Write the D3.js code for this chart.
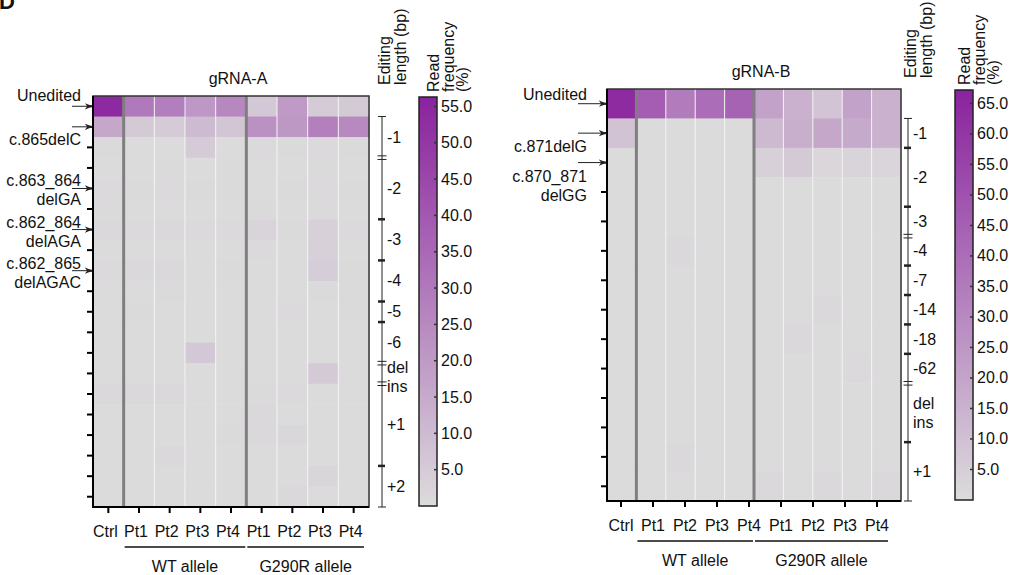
<!DOCTYPE html>
<html>
<head>
<meta charset="utf-8">
<script src="https://cdn.jsdelivr.net/npm/d3@7"></script>
<style>
  body { margin: 0; background: #fff; }
  text { font-family: "Liberation Sans", Arial, Helvetica, sans-serif; fill: #111; }
</style>
</head>
<body>
<script>
// ---- data: gRNA-A (left) ----
var leftColumns = ["Ctrl", "WT-Pt1", "WT-Pt2", "WT-Pt3", "WT-Pt4", "G-Pt1", "G-Pt2", "G-Pt3", "G-Pt4"];
var leftTickLabels = ["Ctrl", "Pt1", "Pt2", "Pt3", "Pt4", "Pt1", "Pt2", "Pt3", "Pt4"];
var leftValues = [
  [54, 30, 28.5, 21, 25.5, 6, 20, 5, 5.5],
  [16, 5.5, 5, 10, 7, 23, 20.5, 28, 25],
  [0.6, 0.4, 0.3, 5, 0.4, 0.8, 0.6, 0.9, 0.5],
  [0.4, 0.3, 0.5, 0.3, 0.6, 0.4, 0.3, 0.5, 0.4],
  [0.9, 0.7, 0.8, 0.5, 0.6, 0.4, 0.5, 1.0, 0.7],
  [0.5, 0.3, 0.4, 0.3, 0.3, 0.6, 0.4, 0.5, 0.4],
  [1.2, 1.0, 1.1, 0.9, 1.0, 2.5, 0.6, 3.5, 0.8],
  [0.4, 0.3, 0.4, 0.3, 0.4, 0.8, 0.4, 3.5, 0.4],
  [0.8, 1.2, 1.1, 0.4, 0.5, 0.4, 0.4, 4.5, 0.5],
  [0.3, 0.4, 0.6, 0.3, 0.3, 0.4, 0.3, 0.5, 0.6],
  [0.4, 0.6, 0.4, 0.3, 0.3, 0.3, 0.8, 0.4, 0.7],
  [0.3, 0.3, 0.3, 0.3, 0.3, 0.3, 0.3, 0.3, 0.3],
  [0.4, 0.3, 0.3, 6, 0.3, 0.4, 0.3, 0.3, 0.4],
  [0.3, 0.3, 0.3, 0.3, 0.3, 0.3, 0.3, 5.5, 0.3],
  [1.3, 1.2, 1.2, 0.4, 0.4, 0.6, 1.0, 0.4, 0.4],
  [0.3, 0.3, 0.3, 0.3, 0.3, 1.3, 0.4, 0.3, 0.3],
  [0.3, 0.3, 0.3, 0.3, 0.5, 1.2, 1.4, 0.3, 0.3],
  [0.3, 0.3, 1.3, 0.3, 0.3, 0.4, 0.3, 0.3, 0.3],
  [0.3, 0.3, 0.3, 0.3, 0.3, 0.3, 0.3, 1.8, 0.4],
  [0.3, 0.3, 0.3, 0.3, 0.3, 0.3, 1.3, 0.3, 0.3]
];
var leftAnnotations = [
  { row: 0, lines: ["Unedited"], side: "above" },
  { row: 1, lines: ["c.865delC"], side: "below" },
  { row: 4, lines: ["c.863_864", "delGA"], side: "center" },
  { row: 6, lines: ["c.862_864", "delAGA"], side: "center" },
  { row: 8, lines: ["c.862_865", "delAGAC"], side: "center" }
];
var leftGroups = [
  { label: ["-1"], from: 1, to: 3, end: "double" },
  { label: ["-2"], from: 3, to: 6, end: "single" },
  { label: ["-3"], from: 6, to: 8, end: "single" },
  { label: ["-4"], from: 8, to: 10, end: "single" },
  { label: ["-5"], from: 10, to: 11, end: "single" },
  { label: ["-6"], from: 11, to: 13, end: "double" },
  { label: ["del", "ins"], from: 13, to: 14, end: "double" },
  { label: ["+1"], from: 14, to: 18, end: "single" },
  { label: ["+2"], from: 18, to: 20, end: "cap" }
];
var leftAlleles = [
  { name: "WT allele", from: 1, to: 5 },
  { name: "G290R allele", from: 5, to: 9 }
];
var leftBarMax = 56.3;
var leftBarTicks = [5, 10, 15, 20, 25, 30, 35, 40, 45, 50, 55];

// ---- data: gRNA-B (right) ----
var rightColumns = ["Ctrl", "WT-Pt1", "WT-Pt2", "WT-Pt3", "WT-Pt4", "G-Pt1", "G-Pt2", "G-Pt3", "G-Pt4", "G-Pt5"];
var rightTickLabels = ["Ctrl", "Pt1", "Pt2", "Pt3", "Pt4", "Pt1", "Pt2", "Pt3", "Pt4"];
var rightValues = [
  [64, 46, 35, 40, 44, 21, 15, 8.5, 21, 15],
  [9, 0.3, 0.3, 0.3, 0.3, 12.5, 16, 19, 18, 15],
  [0.3, 0.2, 0.2, 0.2, 0.2, 4.3, 6.4, 2, 3, 2.5],
  [0.3, 0.2, 0.2, 0.2, 0.2, 0.4, 0.3, 0.3, 0.3, 0.3],
  [0.2, 0.2, 0.5, 0.2, 0.2, 0.3, 0.3, 0.3, 0.3, 0.3],
  [0.2, 0.2, 1.5, 0.2, 0.2, 0.2, 0.2, 0.2, 0.2, 0.2],
  [0.2, 0.2, 0.2, 0.2, 0.2, 0.2, 0.2, 0.2, 0.2, 0.2],
  [0.2, 0.2, 0.2, 0.2, 0.2, 0.2, 0.2, 1.5, 0.2, 0.2],
  [0.2, 0.2, 0.2, 0.2, 0.2, 0.2, 1.5, 0.2, 0.2, 0.2],
  [0.2, 0.2, 0.2, 0.2, 0.2, 0.2, 0.2, 0.2, 1.0, 0.2],
  [0.2, 0.2, 0.2, 0.2, 0.2, 0.2, 0.2, 0.2, 0.2, 0.2],
  [0.2, 0.2, 0.2, 0.2, 0.2, 0.2, 0.2, 0.2, 0.2, 0.2],
  [0.2, 0.2, 1.5, 0.2, 0.2, 0.2, 0.2, 0.2, 0.2, 0.2],
  [0.3, 0.2, 0.4, 0.2, 0.2, 1.5, 0.2, 1.5, 0.2, 1.5]
];
var rightAnnotations = [
  { row: 0, lines: ["Unedited"], side: "above" },
  { row: 1, lines: ["c.871delG"], side: "below" },
  { row: 2, lines: ["c.870_871", "delGG"], side: "below" }
];
var rightGroups = [
  { label: ["-1"], from: 1, to: 2, end: "single" },
  { label: ["-2"], from: 2, to: 4, end: "single" },
  { label: ["-3"], from: 4, to: 5, end: "double" },
  { label: ["-4"], from: 5, to: 6, end: "single" },
  { label: ["-7"], from: 6, to: 7, end: "single" },
  { label: ["-14"], from: 7, to: 8, end: "single" },
  { label: ["-18"], from: 8, to: 9, end: "single" },
  { label: ["-62"], from: 9, to: 10, end: "double" },
  { label: ["del", "ins"], from: 10, to: 12, end: "single" },
  { label: ["+1"], from: 12, to: 14, end: "cap" }
];
var rightAlleles = [
  { name: "WT allele", from: 1, to: 5 },
  { name: "G290R allele", from: 5, to: 10 }
];
var rightBarMax = 67.2;
var rightBarTicks = [5, 10, 15, 20, 25, 30, 35, 40, 45, 50, 55, 60, 65];

var width = 1014, height = 575;
var lowColor = "#dcdcdc", highColor = "#8a229e";

var svg = d3.select("body").append("svg")
    .attr("width", width)
    .attr("height", height);

var defs = svg.append("defs");
defs.append("marker")
    .attr("id", "arrowhead")
    .attr("viewBox", "0 -4 10 8")
    .attr("refX", 9)
    .attr("refY", 0)
    .attr("markerWidth", 8)
    .attr("markerHeight", 7)
    .attr("markerUnits", "userSpaceOnUse")
    .attr("orient", "auto")
    .append("path")
    .attr("d", "M0,-4 L10,0 L0,4 L3,0 Z")
    .attr("fill", "#222");

svg.append("text")
    .attr("x", -1)
    .attr("y", 9)
    .attr("font-size", 22)
    .attr("font-weight", "bold")
    .text("D");

var drawPanel = function(p)
{
    var g = svg.append("g");
    var nRows = p.values.length;

    var x = d3.scaleBand().domain(p.columns).range([p.x0, p.x1]);
    var y = d3.scaleBand().domain(d3.range(nRows)).range([p.y0, p.y1]);
    var xl = d3.scaleBand().domain(d3.range(p.tickLabels.length)).range(p.labelRange);
    var color = d3.scaleLinear().domain([0, p.barMax]).range([lowColor, highColor]);

    // cells
    var cells = [];
    p.values.forEach(function(row, r) {
        row.forEach(function(v, c) {
            cells.push({ r: r, c: p.columns[c], v: v });
        });
    });
    g.selectAll("rect.cell")
        .data(cells)
        .enter().append("rect")
        .attr("class", "cell")
        .attr("x", function(d) { return x(d.c); })
        .attr("y", function(d) { return y(d.r); })
        .attr("width", x.bandwidth() + 0.5)
        .attr("height", y.bandwidth() + 0.5)
        .attr("fill", function(d) { return color(d.v); });

    // column separators
    var thick = [p.columns[1], p.columns[5]];
    p.columns.slice(1).forEach(function(c) {
        var isThick = thick.indexOf(c) >= 0;
        g.append("line")
            .attr("x1", x(c)).attr("x2", x(c))
            .attr("y1", p.y0).attr("y2", p.y1)
            .attr("stroke", isThick ? "#7f7f7f" : "#f4f4f4")
            .attr("stroke-width", isThick ? 3 : 1);
    });

    // frame
    g.append("rect")
        .attr("x", p.x0).attr("y", p.y0)
        .attr("width", p.x1 - p.x0).attr("height", p.y1 - p.y0)
        .attr("fill", "none")
        .attr("stroke", "#333")
        .attr("stroke-width", 1.5);
    g.append("path")
        .attr("d", "M" + p.x0 + "," + p.y0 + "V" + p.y1 + "H" + p.x1)
        .attr("fill", "none")
        .attr("stroke", "#000")
        .attr("stroke-width", 2);

    // left ticks
    var yAxis = d3.axisLeft(y).tickSize(6).tickFormat("");
    var ya = g.append("g").attr("transform", "translate(" + p.x0 + ",0)").call(yAxis);
    ya.select(".domain").remove();
    ya.selectAll("line").attr("stroke", "#000").attr("stroke-width", 2);

    // arrows + labels
    p.annotations.forEach(function(a) {
        var cy = y(a.row) + y.bandwidth() / 2;
        g.append("line")
            .attr("x1", p.x0 - p.arrowLen).attr("x2", p.x0 - 1)
            .attr("y1", cy).attr("y2", cy)
            .attr("stroke", "#222").attr("stroke-width", 1)
            .attr("marker-end", "url(#arrowhead)");
        var offs;
        if (a.side === "above") offs = [p.aboveDy];
        else if (a.side === "below") offs = a.lines.length > 1 ? [19, 38] : [18.5];
        else offs = [-2, 17];
        a.lines.forEach(function(t, i) {
            g.append("text")
                .attr("x", p.x0 - p.labelGap)
                .attr("y", cy + offs[i])
                .attr("text-anchor", "end")
                .attr("font-size", 16)
                .text(t);
        });
    });

    // bottom axis
    var xAxis = d3.axisBottom(xl).tickSize(6).tickFormat(function(i) { return p.tickLabels[i]; });
    var xa = g.append("g").attr("transform", "translate(0," + p.y1 + ")").call(xAxis);
    xa.select(".domain").remove();
    xa.selectAll("line").attr("stroke", "#000").attr("stroke-width", 2);
    xa.selectAll("text")
        .attr("font-size", 16)
        .attr("font-family", "\"Liberation Sans\", Arial, sans-serif")
        .attr("fill", "#111")
        .attr("dy", null)
        .attr("x", p.labelDx)
        .attr("y", 30);

    // allele groups
    p.alleles.forEach(function(a) {
        var ax0 = x(p.columns[a.from]) + 1;
        var ax1 = Math.min(x(p.columns[a.to - 1]) + x.bandwidth() - 1, p.labelRange[1] - 5);
        g.append("line")
            .attr("x1", ax0).attr("x2", ax1)
            .attr("y1", p.y1 + 40).attr("y2", p.y1 + 40)
            .attr("stroke", "#111").attr("stroke-width", 1.5);
        g.append("text")
            .attr("x", (ax0 + ax1) / 2)
            .attr("y", p.y1 + 65)
            .attr("text-anchor", "middle")
            .attr("font-size", 16)
            .text(a.name);
    });

    // title
    g.append("text")
        .attr("x", (p.x0 + p.x1) / 2 + 7)
        .attr("y", p.y0 - 12)
        .attr("text-anchor", "middle")
        .attr("font-size", 16)
        .text(p.title);

    // editing length bracket
    var bx = p.bracketX;
    var top = y(p.groups[0].from);
    var last = p.groups[p.groups.length - 1];
    var bottom = y(last.to - 1) + y.bandwidth();
    g.append("line")
        .attr("x1", bx).attr("x2", bx)
        .attr("y1", top).attr("y2", bottom)
        .attr("stroke", "#222").attr("stroke-width", 1);
    g.append("line")
        .attr("x1", bx - 4).attr("x2", bx + 4)
        .attr("y1", top).attr("y2", top)
        .attr("stroke", "#222").attr("stroke-width", 1);
    p.groups.forEach(function(gr) {
        var gy0 = y(gr.from);
        var gy1 = y(gr.to - 1) + y.bandwidth();
        if (gr.end === "single") {
            g.append("line")
                .attr("x1", bx - 4).attr("x2", bx + 3)
                .attr("y1", gy1).attr("y2", gy1)
                .attr("stroke", "#222").attr("stroke-width", 2.5);
        } else if (gr.end === "double") {
            [-1.8, 1.8].forEach(function(o) {
                g.append("line")
                    .attr("x1", bx - 4.5).attr("x2", bx + 4.5)
                    .attr("y1", gy1 + o).attr("y2", gy1 + o)
                    .attr("stroke", "#222").attr("stroke-width", 1);
            });
        } else {
            g.append("line")
                .attr("x1", bx - 4).attr("x2", bx + 4)
                .attr("y1", gy1).attr("y2", gy1)
                .attr("stroke", "#222").attr("stroke-width", 1);
        }
        var mid = (gy0 + gy1) / 2;
        var n = gr.label.length;
        gr.label.forEach(function(t, i) {
            g.append("text")
                .attr("x", bx + 5)
                .attr("y", mid + 5.5 + (n > 1 ? p.multiDy : 0) + (i - (n - 1) / 2) * 19)
                .attr("font-size", 16)
                .text(t);
        });
    });
    ["Editing", "length (bp)"].forEach(function(t, i) {
        g.append("text")
            .attr("transform", "translate(" + (bx + 8 + i * 15.5) + "," + (p.y0 - 11) + ") rotate(-90)")
            .attr("font-size", 16)
            .text(t);
    });

    // colour bar
    var b = p.bar;
    var yb = d3.scaleLinear().domain([0, p.barMax]).range([b.y1, b.y0]);
    var gradId = "grad-" + p.title;
    var grad = defs.append("linearGradient")
        .attr("id", gradId)
        .attr("gradientUnits", "userSpaceOnUse")
        .attr("x1", 0).attr("x2", 0)
        .attr("y1", b.y1).attr("y2", b.y0);
    d3.range(0, 1.0001, 0.1).forEach(function(t) {
        grad.append("stop")
            .attr("offset", t)
            .attr("stop-color", color(t * p.barMax));
    });
    g.append("rect")
        .attr("x", b.x0).attr("y", b.y0)
        .attr("width", b.x1 - b.x0).attr("height", b.y1 - b.y0)
        .attr("fill", "url(#" + gradId + ")")
        .attr("stroke", "#222").attr("stroke-width", 1.5);
    p.barTicks.forEach(function(v) {
        g.append("line")
            .attr("x1", b.x1 - 3).attr("x2", b.x1)
            .attr("y1", yb(v)).attr("y2", yb(v))
            .attr("stroke", "#333").attr("stroke-width", 1.5);
        g.append("text")
            .attr("x", b.x1 + 4)
            .attr("y", yb(v) + 5.5)
            .attr("font-size", 16)
            .text(d3.format(".1f")(v));
    });
    ["Read", "frequency", "(%)"].forEach(function(t, i) {
        g.append("text")
            .attr("transform", "translate(" + (b.x0 + b.textDx + i * 14.5) + "," + (b.y0 - 5) + ") rotate(-90)")
            .attr("font-size", 16)
            .text(t);
    });
};

drawPanel({
    title: "gRNA-A",
    columns: leftColumns, tickLabels: leftTickLabels, values: leftValues,
    annotations: leftAnnotations, groups: leftGroups, alleles: leftAlleles,
    barMax: leftBarMax, barTicks: leftBarTicks,
    x0: 93, x1: 369, y0: 96, y1: 507,
    labelRange: [93, 369], labelDx: -3,
    labelGap: 12, arrowLen: 21, aboveDy: -5, multiDy: 4,
    bracketX: 382,
    bar: { x0: 419, x1: 437, y0: 97, y1: 506, textDx: 20 }
});

drawPanel({
    title: "gRNA-B",
    columns: rightColumns, tickLabels: rightTickLabels, values: rightValues,
    annotations: rightAnnotations, groups: rightGroups, alleles: rightAlleles,
    barMax: rightBarMax, barTicks: rightBarTicks,
    x0: 607, x1: 901, y0: 89, y1: 501,
    labelRange: [605, 893], labelDx: 0,
    labelGap: 20, arrowLen: 29, aboveDy: -4, multiDy: 0,
    bracketX: 908,
    bar: { x0: 955, x1: 973, y0: 90, y1: 500, textDx: 15 }
});
</script>
</body>
</html>
